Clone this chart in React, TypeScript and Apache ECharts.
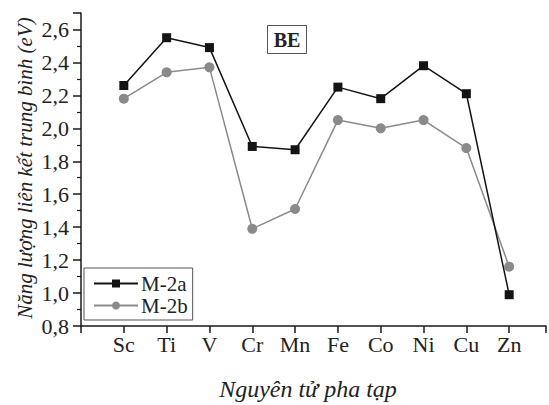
import React, { useEffect, useRef } from "react";
import * as echarts from "echarts";

const categories = ["Sc", "Ti", "V", "Cr", "Mn", "Fe", "Co", "Ni", "Cu", "Zn"];
const m2a = [2.26, 2.55, 2.49, 1.89, 1.87, 2.25, 2.18, 2.38, 2.21, 0.99];
const m2b = [2.18, 2.34, 2.37, 1.39, 1.51, 2.05, 2.0, 2.05, 1.88, 1.16];
const seriesNames = ["M-2a", "M-2b"];
const yAxisTitle = "Năng lượng liên kết trung bình (eV)";
const xAxisTitle = "Nguyên tử pha tạp";
const panelLabel = "BE";

const FONT = "Liberation Serif";

export default function App() {
  const ref = useRef<HTMLDivElement>(null);
  useEffect(() => {
    if (!ref.current) return;
    const chart = echarts.init(ref.current, null, { renderer: "svg" });
    const toPts = (arr: number[]) => arr.map((v, i) => [i + 1, v]);
    chart.setOption({
      animation: false,
      backgroundColor: "#ffffff",
      grid: { left: 81, right: 0, top: 13, bottom: 79, containLabel: false },
      xAxis: {
        type: "value",
        min: 0,
        max: 10.86,
        interval: 1,
        axisLine: { show: true, onZero: false, lineStyle: { color: "#1a1a1a", width: 1.5 } },
        axisTick: { show: true, inside: false, length: 7, lineStyle: { color: "#1a1a1a", width: 1.5 } },
        axisLabel: {
          color: "#222",
          fontFamily: FONT,
          fontSize: 22,
          margin: 7,
          formatter: (v: number) => {
            const i = Math.round(v) - 1;
            return i >= 0 && i < categories.length && Math.abs(v - Math.round(v)) < 1e-6 ? categories[i] : "";
          },
        },
        splitLine: { show: false },
      },
      yAxis: {
        type: "value",
        min: 0.8,
        max: 2.7,
        interval: 0.2,
        axisLine: { show: true, onZero: false, lineStyle: { color: "#1a1a1a", width: 1.5 } },
        axisTick: { show: true, inside: false, length: 8, lineStyle: { color: "#1a1a1a", width: 1.5 } },
        minorTick: { show: true, splitNumber: 2, length: 4, lineStyle: { color: "#1a1a1a", width: 1.2 } },
        axisLabel: {
          color: "#222",
          fontFamily: FONT,
          fontSize: 22,
          margin: 12,
          formatter: (v: number) => {
            const r = Math.round(v * 10) / 10;
            if (Math.abs(r * 5 - Math.round(r * 5)) > 1e-6) return "";
            if (r > 2.65) return "";
            return r.toFixed(1).replace(".", ",");
          },
        },
        splitLine: { show: false },
      },
      legend: {
        show: true,
        left: 84,
        top: 268,
        orient: "vertical",
        itemGap: 1,
        itemWidth: 44,
        itemHeight: 10,
        padding: [5, 5, 4, 9],
        borderColor: "#555",
        borderWidth: 1,
        backgroundColor: "#fff",
        textStyle: { fontFamily: FONT, fontSize: 21, color: "#222", padding: [0, 0, 0, -2] },
        data: [seriesNames[0], seriesNames[1]],
      },
      series: [
        {
          name: seriesNames[0],
          type: "line",
          data: toPts(m2a),
          symbol: "rect",
          symbolSize: 9,
          itemStyle: { color: "#141414" },
          lineStyle: { color: "#141414", width: 1.5 },
          z: 3,
        },
        {
          name: seriesNames[1],
          type: "line",
          data: toPts(m2b),
          symbol: "circle",
          symbolSize: 10,
          itemStyle: { color: "#8a8a8a" },
          lineStyle: { color: "#8a8a8a", width: 1.5 },
          z: 2,
        },
      ],
      graphic: [
        {
          type: "text",
          x: 25,
          y: 168,
          rotation: Math.PI / 2,
          style: {
            text: yAxisTitle,
            font: "italic 21px 'Liberation Serif'",
            fill: "#222",
            align: "center",
            verticalAlign: "middle",
          },
        },
        {
          type: "text",
          x: 308,
          y: 389,
          style: {
            text: xAxisTitle,
            font: "italic 24px 'Liberation Serif'",
            fill: "#222",
            align: "center",
            verticalAlign: "middle",
          },
        },
        {
          type: "rect",
          shape: { x: 267.5, y: 25.5, width: 39, height: 28 },
          style: { fill: "#fff", stroke: "#555", lineWidth: 1 },
        },
        {
          type: "text",
          x: 287,
          y: 40,
          style: {
            text: panelLabel,
            font: "bold 20px 'Liberation Serif'",
            fill: "#222",
            align: "center",
            verticalAlign: "middle",
          },
        },
      ],
    });
    return () => chart.dispose();
  }, []);
  return <div ref={ref} style={{ width: 549, height: 405, position: "absolute", left: 0, top: 0 }} />;
}
